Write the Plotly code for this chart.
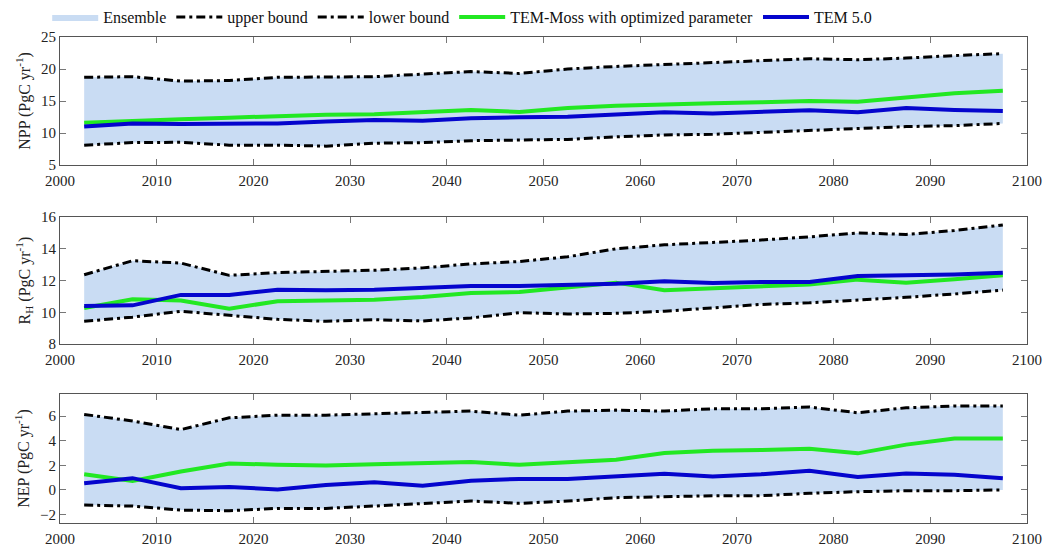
import plotly.graph_objects as go

years = [2002.5 + 5 * i for i in range(20)]

npp_upper = [18.7, 18.8, 18.1, 18.2, 18.7, 18.8, 18.8, 19.2, 19.6, 19.3, 20.0, 20.4, 20.7, 21.1, 21.3, 21.6, 21.45, 21.7, 22.1, 22.4]
npp_lower = [8.1, 8.5, 8.55, 8.1, 8.1, 7.95, 8.4, 8.5, 8.8, 8.9, 9.0, 9.4, 9.7, 9.8, 10.1, 10.4, 10.6, 11.0, 11.15, 11.5]
npp_moss = [11.6, 11.8, 12.15, 12.4, 12.7, 12.85, 12.95, 13.3, 13.6, 13.3, 13.9, 14.25, 14.5, 14.65, 14.8, 15.0, 14.9, 15.6, 16.2, 16.6]
npp_tem = [11.0, 11.5, 11.4, 11.45, 11.5, 11.8, 12.05, 11.9, 12.3, 12.45, 12.55, 12.9, 13.25, 13.05, 13.25, 13.55, 13.25, 13.9, 13.6, 13.45]

rh_upper = [12.37, 13.25, 13.1, 12.33, 12.5, 12.58, 12.65, 12.8, 13.05, 13.2, 13.5, 14.0, 14.25, 14.4, 14.55, 14.75, 15.0, 14.9, 15.15, 15.5]
rh_lower = [9.44, 9.7, 10.07, 9.82, 9.56, 9.44, 9.54, 9.46, 9.65, 9.98, 9.9, 9.94, 10.07, 10.28, 10.5, 10.6, 10.76, 10.95, 11.16, 11.4]
rh_moss = [10.28, 10.82, 10.74, 10.23, 10.7, 10.76, 10.8, 10.97, 11.22, 11.28, 11.6, 11.87, 11.39, 11.53, 11.66, 11.76, 12.06, 11.87, 12.08, 12.33]
rh_tem = [10.4, 10.44, 11.1, 11.1, 11.43, 11.39, 11.43, 11.53, 11.66, 11.66, 11.74, 11.8, 11.95, 11.85, 11.91, 11.91, 12.29, 12.33, 12.39, 12.5]

nep_upper = [6.14, 5.6, 4.9, 5.86, 6.08, 6.08, 6.19, 6.33, 6.41, 6.08, 6.41, 6.49, 6.41, 6.6, 6.6, 6.74, 6.27, 6.68, 6.82, 6.82]
nep_lower = [-1.24, -1.32, -1.65, -1.7, -1.51, -1.51, -1.32, -1.1, -0.91, -1.1, -0.91, -0.64, -0.56, -0.48, -0.48, -0.28, -0.15, -0.07, -0.07, -0.01]
nep_moss = [1.27, 0.73, 1.49, 2.15, 2.04, 1.98, 2.09, 2.17, 2.26, 2.04, 2.26, 2.45, 3.0, 3.19, 3.24, 3.35, 2.97, 3.68, 4.17, 4.17]
nep_tem = [0.54, 0.95, 0.13, 0.23, 0.03, 0.4, 0.62, 0.34, 0.73, 0.89, 0.89, 1.08, 1.3, 1.08, 1.27, 1.55, 1.05, 1.33, 1.22, 0.95]

panels = [
    dict(upper=npp_upper, lower=npp_lower, moss=npp_moss, tem=npp_tem,
         title="NPP (PgC yr<sup>-1</sup>)", range=[5, 25], dtick=5, domain=[0.7366, 1.0]),
    dict(upper=rh_upper, lower=rh_lower, moss=rh_moss, tem=rh_tem,
         title="R<sub>H</sub> (PgC yr<sup>-1</sup>)", range=[8, 16], dtick=2, domain=[0.368, 0.6296]),
    dict(upper=nep_upper, lower=nep_lower, moss=nep_moss, tem=nep_tem,
         title="NEP (PgC yr<sup>-1</sup>)", range=[-2.7, 7.8], dtick=2, domain=[0.0, 0.2654]),
]

FILL = "#c9dcf3"
GREEN = "#22e822"
BLUE = "#0505cd"
DASH = "9px,4px,3px,4px"
FONT = "'Liberation Serif', 'Times New Roman', serif"

fig = go.Figure()
for i, p in enumerate(panels):
    xa = "x" if i == 0 else f"x{i+1}"
    ya = "y" if i == 0 else f"y{i+1}"
    first = i == 0
    fig.add_trace(go.Scatter(x=years, y=p["lower"], mode="lines", line=dict(width=0, color=FILL),
                             showlegend=False, hoverinfo="skip", xaxis=xa, yaxis=ya))
    fig.add_trace(go.Scatter(x=years, y=p["upper"], mode="lines", line=dict(width=0, color=FILL),
                             fill="tonexty", fillcolor=FILL, name="Ensemble", legendgroup="ens",
                             showlegend=first, xaxis=xa, yaxis=ya))
    fig.add_trace(go.Scatter(x=years, y=p["upper"], mode="lines", line=dict(width=3, color="black", dash=DASH),
                             name="upper bound", legendgroup="up", showlegend=first, xaxis=xa, yaxis=ya))
    fig.add_trace(go.Scatter(x=years, y=p["lower"], mode="lines", line=dict(width=3, color="black", dash=DASH),
                             name="lower bound", legendgroup="low", showlegend=first, xaxis=xa, yaxis=ya))
    fig.add_trace(go.Scatter(x=years, y=p["moss"], mode="lines", line=dict(width=4, color=GREEN),
                             name="TEM-Moss with optimized parameter", legendgroup="moss", showlegend=first,
                             xaxis=xa, yaxis=ya))
    fig.add_trace(go.Scatter(x=years, y=p["tem"], mode="lines", line=dict(width=4, color=BLUE),
                             name="TEM 5.0", legendgroup="tem", showlegend=first, xaxis=xa, yaxis=ya))

    axis_common = dict(showline=True, linecolor="#555", linewidth=1, mirror="allticks",
                       ticks="inside", ticklen=6, tickcolor="#777", showgrid=False, zeroline=False,
                       tickfont=dict(family=FONT, size=15, color="#222"))
    fig.update_layout(**{
        ("xaxis" if i == 0 else f"xaxis{i+1}"): dict(range=[2000, 2100], dtick=10, tick0=2000,
                                                   anchor=ya, ticklabelstandoff=2, **axis_common),
        ("yaxis" if i == 0 else f"yaxis{i+1}"): dict(range=p["range"], dtick=p["dtick"], domain=p["domain"],
                                                   anchor=xa,
                                                   title=dict(text=p["title"], font=dict(family=FONT, size=16, color="#222"),
                                                              standoff=6),
                                                   **axis_common),
    })

fig.update_layout(
    width=1049, height=550,
    margin=dict(l=60, r=22, t=37, b=27, autoexpand=False),
    paper_bgcolor="white", plot_bgcolor="white",
    font=dict(family=FONT, size=15, color="#111"),
    showlegend=True,
    legend=dict(orientation="h", xref="container", x=0.045, xanchor="left",
                yref="container", y=1.0, yanchor="top",
                font=dict(family=FONT, size=16, color="#111"), itemwidth=46,
                bgcolor="rgba(0,0,0,0)", tracegroupgap=0),
)

# remove the browser's default 8px body margin so the 1049x550 figure fills the window
fig.write_html("out.html", config={"displayModeBar": False},
               post_script="document.body.style.margin='0';")
